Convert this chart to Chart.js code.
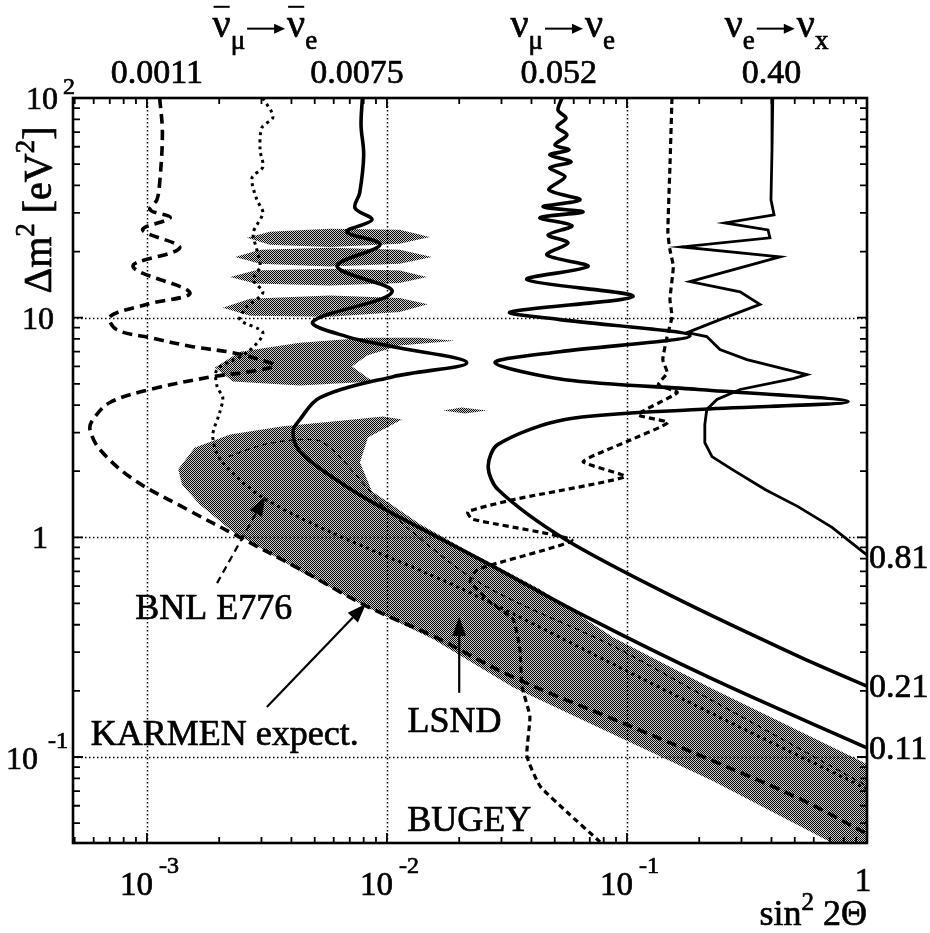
<!DOCTYPE html>
<html>
<head>
<meta charset="utf-8">
<script src="https://cdn.jsdelivr.net/npm/chart.js@4.4.0/dist/chart.umd.min.js"></script>
<style>
  html, body { margin: 0; background: #fff; }
</style>
</head>
<body>
<canvas id="c" width="930" height="933"></canvas>
<script>
// values: sin^2(2θ) and Δm^2 [eV^2]

// KARMEN limit, anti-nu_mu -> anti-nu_e
const antiMuE_s2  = [0.0079, 0.0078, 0.0080, 0.0077, 0.00736, 0.00866, 0.00681, 0.00935, 0.0062, 0.0105, 0.00492, 0.00681, 0.0106, 0.0215, 0.0106, 0.00526, 0.00434, 0.00406, 0.00434, 0.00637, 0.00935, 0.0244, 0.0681, 0.228, 1];
const antiMuE_dm2 = [100, 75, 55, 37, 31.6, 27.9, 24.6, 21.5, 17.1, 13.1, 9.6, 8.2, 7.38, 6.24, 5.39, 4.33, 3.44, 3.03, 2.46, 1.78, 1.38, 0.794, 0.433, 0.226, 0.11];

// KARMEN limit, nu_mu -> nu_e
const muE_s2  = [0.0536, 0.0516, 0.0557, 0.0511, 0.0562, 0.0501, 0.0573, 0.0477, 0.0585, 0.0477, 0.0552, 0.0473, 0.0637, 0.0447, 0.0656, 0.0434, 0.059, 0.0469, 0.0568, 0.0464, 0.0688, 0.0383, 0.106, 0.0326, 0.0526, 0.183, 0.0526, 0.0282, 0.0552, 0.198, 0.834, 0.198, 0.0552, 0.029, 0.0264, 0.029, 0.0552, 0.154, 0.516, 1];
const muE_dm2 = [100, 88, 81, 73.8, 67.9, 61.1, 58, 55.1, 51.2, 48.1, 43.8, 38.2, 34.4, 32, 30.3, 28.5, 26.2, 23.8, 21.9, 19.3, 17.1, 14.9, 12.5, 10.6, 9.8, 8.28, 7.0, 6.24, 5.22, 4.71, 4.15, 3.82, 3.44, 2.65, 2.1, 1.65, 0.98, 0.54, 0.288, 0.21];

// KARMEN limit, nu_e -> nu_x
const eX_s2  = [0.405, 0.402, 0.398, 0.41, 0.256, 0.387, 0.394, 0.169, 0.434, 0.183, 0.296, 0.358, 0.244, 0.178, 0.215, 0.244, 0.316, 0.562, 0.492, 0.296, 0.237, 0.215, 0.211, 0.211, 0.226, 0.274, 0.376, 0.516, 0.715, 1];
const eX_dm2 = [100, 58, 34.4, 29.4, 27, 25.1, 23.1, 21, 18.9, 14.6, 13.1, 11.5, 9.8, 8.55, 8.2, 7.16, 6.44, 5.51, 5.28, 4.71, 4.24, 3.82, 3.26, 2.7, 2.33, 2.04, 1.65, 1.38, 1.11, 0.83];

// KARMEN expected sensitivity
const karmenExp_s2  = [0.00113, 0.00116, 0.00113, 0.0011, 0.00103, 0.00125, 0.00096, 0.00137, 0.000875, 0.00151, 0.001, 0.000701, 0.00075, 0.00103, 0.00155, 0.00228, 0.00296, 0.00341, 0.00269, 0.00188, 0.00103, 0.000701, 0.000596, 0.000579, 0.000637, 0.000875, 0.00147, 0.00244, 0.00434, 0.00826, 0.0156, 0.0335, 0.0874, 0.228, 0.526, 1];
const karmenExp_dm2 = [100, 69.3, 41.1, 34.4, 31, 28.5, 25.1, 20.8, 17.1, 13, 11.5, 10.1, 8.81, 8.11, 7.38, 6.93, 6.44, 6.05, 5.68, 5.39, 4.71, 4.11, 3.44, 3.1, 2.51, 1.84, 1.34, 1, 0.716, 0.485, 0.355, 0.231, 0.149, 0.096, 0.0644, 0.0447];

// BNL E776
const bnl_s2  = [0.00304, 0.00335, 0.00301, 0.00296, 0.00304, 0.00274, 0.00287, 0.00304, 0.00277, 0.00287, 0.00296, 0.00277, 0.00304, 0.00261, 0.00244, 0.00304, 0.00261, 0.00196, 0.00196, 0.00207, 0.00201, 0.00188, 0.00205, 0.00301, 0.00579, 0.0207, 0.0874, 0.228, 1];
const bnl_dm2 = [100, 82, 73.1, 58, 48.5, 43.3, 34.4, 30, 24.3, 20.4, 17.1, 14.9, 13, 11.2, 9.8, 8.55, 6.93, 5.8, 4.86, 4.33, 3.7, 2.88, 2.21, 1.53, 1.06, 0.58, 0.265, 0.157, 0.0716];

// BUGEY
const bugey_s2  = [0.154, 0.151, 0.148, 0.151, 0.156, 0.151, 0.154, 0.147, 0.141, 0.147, 0.135, 0.162, 0.111, 0.148, 0.1, 0.0656, 0.0982, 0.0341, 0.0217, 0.0226, 0.059, 0.0239, 0.0222, 0.0269, 0.0335, 0.0358, 0.0365, 0.0394, 0.0383, 0.0434, 0.0562, 0.0772];
const bugey_dm2 = [100, 48.5, 24.3, 20.4, 17.1, 12.1, 10.1, 8.2, 6.44, 5.62, 4.95, 4.56, 3.62, 3.33, 2.73, 2.21, 1.89, 1.49, 1.31, 1.21, 0.97, 0.716, 0.631, 0.507, 0.424, 0.31, 0.21, 0.153, 0.101, 0.0738, 0.0562, 0.0411];

// LSND favoured region (outlines of the stippled patches)
const lsndBand = [[0.00135, 2.04], [0.00158, 2.56], [0.00222, 2.94], [0.00369, 3.2], [0.00596, 3.37], [0.00962, 3.55], [0.01155, 3.44], [0.00833, 2.85], [0.00772, 2.19], [0.00866, 1.62], [0.0137, 1.15], [0.0211, 0.882], [0.0434, 0.58], [0.0874, 0.351], [0.228, 0.204], [1, 0.093], [1, 0.04], [0.736, 0.04], [0.228, 0.0778], [0.0874, 0.127], [0.0335, 0.208], [0.0156, 0.344], [0.00826, 0.481], [0.00434, 0.7], [0.00228, 1.06], [0.00166, 1.41], [0.0014, 1.74]];
const lsndIsland1 = [[0.00192, 5.93], [0.00244, 7.0], [0.00434, 7.69], [0.00826, 8.11], [0.0137, 8.11], [0.0192, 7.85], [0.0113, 7.46], [0.00826, 6.72], [0.00715, 5.99], [0.00874, 5.12], [0.00434, 4.91], [0.00228, 5.12]];
const lsndIsland2 = [[0.00207, 11.1], [0.00269, 12.2], [0.00579, 12.6], [0.0113, 12.3], [0.0148, 11.5], [0.0113, 10.6], [0.00579, 10.1], [0.00269, 10.2]];
const lsndIsland3 = [[0.00222, 15.3], [0.00282, 16.4], [0.00579, 16.7], [0.0113, 16.4], [0.0147, 15.3], [0.0113, 14.4], [0.00579, 14.0], [0.00282, 14.3]];
const lsndIsland4 = [[0.00233, 18.9], [0.00296, 20.4], [0.00579, 20.8], [0.0113, 20.4], [0.0154, 18.9], [0.0113, 17.6], [0.00579, 17.1], [0.00296, 17.6]];
const lsndIsland5 = [[0.00261, 23.1], [0.00325, 24.6], [0.00579, 25.4], [0.0113, 25.1], [0.0151, 23.3], [0.0113, 21.7], [0.00579, 21.0], [0.00325, 21.5]];
const lsndIsland6 = [[0.0171, 3.78], [0.0205, 3.9], [0.0261, 3.78], [0.0211, 3.66]];
const lsndInner_s2  = [0.00218, 0.00319, 0.00516, 0.0065, 0.0103, 0.0244, 0.0874, 0.228, 1];
const lsndInner_dm2 = [2.33, 2.67, 2.76, 2.26, 1.3, 0.62, 0.32, 0.18, 0.0738];

// tick labels
const topTickValues = [0.0011, 0.0075, 0.052, 0.40];
const topTickLabels = ['0.0011', '0.0075', '0.052', '0.40'];
const rightTickValues = [0.81, 0.21, 0.11];
const rightTickLabels = ['0.81', '0.21', '0.11'];
const xDecades = [1e-3, 1e-2, 1e-1, 1];
const xDecadeExp = ['-3', '-2', '-1', ''];
const yDecades = [100, 10, 1, 0.1];
const yDecadeExp = ['2', '', '', '-1'];

const X_MIN = 4.92e-4, X_MAX = 1, Y_MIN = 0.0406, Y_MAX = 100;
const SERIF = '"Liberation Serif", "DejaVu Serif", serif';

function pts(xs, ys) { return xs.map((x, i) => ({ x: x, y: ys[i] })); }
function poly(p) { return p.map(([x, y]) => ({ x: x, y: y })); }

function curve(data, width, dash, tension) {
  return {
    data: data, showLine: true, pointRadius: 0, borderColor: '#000',
    borderWidth: width, borderDash: dash, tension: tension, fill: false, clip: 0
  };
}
function patch(data) {
  return { data: data, showLine: false, pointRadius: 0, lsnd: true };
}

function logTicks(min, max) {
  const out = [];
  for (let e = Math.floor(Math.log10(min)); e <= Math.ceil(Math.log10(max)); e++) {
    for (let m = 1; m < 10; m++) {
      const v = m * Math.pow(10, e);
      if (v >= min * 0.999 && v <= max * 1.001) out.push({ v: v, major: m === 1 });
    }
  }
  return out;
}

// scanned print: text a little heavier than the plain font
function ink(ctx, s, x, y) {
  ctx.fillText(s, x, y);
  ctx.lineWidth = 0.7;
  ctx.strokeText(s, x, y);
}

function txt(ctx, s, size, x, y, align) {
  ctx.font = size + 'px ' + SERIF;
  ctx.textAlign = align || 'left';
  ctx.textBaseline = 'alphabetic';
  ink(ctx, s, x, y);
}

// parts: [text, size, dy, options]
function rich(ctx, parts, x, y, align) {
  let w = 0;
  const ws = parts.map(p => {
    if (p[3] && p[3].arrow) { w += p[3].arrow; return p[3].arrow; }
    ctx.font = p[1] + 'px ' + SERIF;
    const m = ctx.measureText(p[0]).width; w += m; return m;
  });
  let cx = align === 'right' ? x - w : align === 'center' ? x - w / 2 : x;
  ctx.textAlign = 'left';
  ctx.textBaseline = 'alphabetic';
  parts.forEach((p, i) => {
    const o = p[3] || {};
    if (o.arrow) {
      const ay = y - p[1] * 0.22, x0 = cx + 2, x1 = cx + ws[i] - 2;
      ctx.lineWidth = 2;
      ctx.beginPath(); ctx.moveTo(x0, ay); ctx.lineTo(x1 - 8, ay); ctx.stroke();
      ctx.beginPath(); ctx.moveTo(x1, ay); ctx.lineTo(x1 - 11, ay - 5); ctx.lineTo(x1 - 11, ay + 5); ctx.closePath(); ctx.fill();
    } else {
      ctx.font = p[1] + 'px ' + SERIF;
      ink(ctx, p[0], cx, y + (p[2] || 0));
      if (o.bar) ctx.fillRect(cx + 1, y - p[1] * 0.78, ws[i] - 2, 2);
    }
    cx += ws[i];
  });
}

function arrow(ctx, x0, y0, x1, y1, dash) {
  const ang = Math.atan2(y1 - y0, x1 - x0), L = 19, W = 7;
  const bx = x1 - L * Math.cos(ang), by = y1 - L * Math.sin(ang);
  ctx.lineWidth = 2.2;
  ctx.setLineDash(dash || []);
  ctx.beginPath(); ctx.moveTo(x0, y0); ctx.lineTo(bx, by); ctx.stroke();
  ctx.setLineDash([]);
  ctx.beginPath();
  ctx.moveTo(x1, y1);
  ctx.lineTo(bx + W * Math.sin(ang), by - W * Math.cos(ang));
  ctx.lineTo(bx - W * Math.sin(ang), by + W * Math.cos(ang));
  ctx.closePath(); ctx.fill();
}

// fine halftone like the printed shading
let stipple = null;
function makeStipple(ctx) {
  const c = document.createElement('canvas');
  c.width = 2; c.height = 2;
  const g = c.getContext('2d');
  g.fillStyle = '#cfcfcf';
  g.fillRect(0, 0, 2, 2);
  g.fillStyle = '#000';
  g.fillRect(0, 0, 1, 1);
  g.fillRect(1, 1, 1, 1);
  return ctx.createPattern(c, 'repeat');
}

const paper = {
  id: 'paper',
  beforeDatasetsDraw(chart) {
    const { ctx, chartArea: a, scales: { x, y } } = chart;
    ctx.save();
    ctx.imageSmoothingEnabled = false;
    if (!stipple) stipple = makeStipple(ctx);
    ctx.beginPath(); ctx.rect(a.left, a.top, a.width, a.height); ctx.clip();
    ctx.fillStyle = stipple;
    chart.data.datasets.forEach((ds, i) => {
      if (!ds.lsnd) return;
      const el = chart.getDatasetMeta(i).data;
      ctx.beginPath();
      el.forEach((p, j) => j ? ctx.lineTo(p.x, p.y) : ctx.moveTo(p.x, p.y));
      ctx.closePath();
      ctx.fill();
    });

    // dotted grid at the decades, over the shading
    ctx.strokeStyle = '#000';
    ctx.lineWidth = 1.5;
    ctx.setLineDash([1.5, 2.5]);
    [1e-3, 1e-2, 1e-1].forEach(v => {
      const p = Math.round(x.getPixelForValue(v)) + 0.5;
      ctx.beginPath(); ctx.moveTo(p, a.top); ctx.lineTo(p, a.bottom); ctx.stroke();
    });
    [10, 1, 0.1].forEach(v => {
      const p = Math.round(y.getPixelForValue(v)) + 0.5;
      ctx.beginPath(); ctx.moveTo(a.left, p); ctx.lineTo(a.right, p); ctx.stroke();
    });
    ctx.setLineDash([]);
    ctx.restore();
  },
  afterDatasetsDraw(chart) {
    const { ctx, chartArea: a, scales: { x, y } } = chart;
    ctx.save();
    ctx.fillStyle = '#000';
    ctx.strokeStyle = '#000';

    // frame and inward ticks
    ctx.lineWidth = 2.6;
    ctx.strokeRect(a.left, a.top, a.width, a.height);
    ctx.lineWidth = 1.8;
    logTicks(X_MIN, X_MAX).forEach(t => {
      const p = x.getPixelForValue(t.v), len = t.major ? 10 : 6;
      ctx.beginPath();
      ctx.moveTo(p, a.bottom); ctx.lineTo(p, a.bottom - len);
      ctx.moveTo(p, a.top); ctx.lineTo(p, a.top + len);
      ctx.stroke();
    });
    logTicks(Y_MIN, Y_MAX).forEach(t => {
      const p = y.getPixelForValue(t.v), len = t.major ? 10 : 7;
      ctx.beginPath();
      ctx.moveTo(a.left, p); ctx.lineTo(a.left + len, p);
      ctx.moveTo(a.right, p); ctx.lineTo(a.right - len, p);
      ctx.stroke();
    });

    // bottom decade labels
    xDecades.forEach((v, i) => {
      const p = x.getPixelForValue(v);
      if (xDecadeExp[i]) {
        txt(ctx, '10', 33, p + 6, 895, 'right');
        txt(ctx, xDecadeExp[i], 24, p + 12, 873, 'left');
      } else {
        txt(ctx, '1', 33, p - 4, 891, 'center');
      }
    });
    rich(ctx, [['sin', 36], ['2', 25, -15], [' 2\u0398', 36]], a.right, 925, 'right');

    // left decade labels
    yDecades.forEach((v, i) => {
      const p = y.getPixelForValue(v);
      const e = yDecadeExp[i];
      if (v === 1) txt(ctx, '1', 32, 48, p + 11, 'right');
      else if (e === '') txt(ctx, '10', 32, 54, p + 11, 'right');
      else if (e === '2') { txt(ctx, '10', 32, 58, p + 11, 'right'); txt(ctx, e, 24, 63, p - 4, 'left'); }
      else { txt(ctx, '10', 32, 38, p + 12, 'right'); txt(ctx, e, 24, 48, p - 9, 'left'); }
    });

    // axis title, rotated
    ctx.save();
    ctx.translate(51, 210);
    ctx.rotate(-Math.PI / 2);
    rich(ctx, [['\u0394m', 40], ['2', 27, -17], [' [eV', 40], ['2', 27, -17], [']', 40]], 0, 0, 'center');
    ctx.restore();

    // top scale: high-mass limits
    topTickValues.forEach((v, i) => txt(ctx, topTickLabels[i], 34, x.getPixelForValue(v), 83, 'center'));
    const bar = { bar: true }, arr = { arrow: 42 };
    rich(ctx, [['\u03bd', 40, 0, bar], ['\u03bc', 27, 12], ['', 38, 0, arr], ['\u03bd', 40, 0, bar], ['e', 27, 12]], x.getPixelForValue(0.0031), 37, 'center');
    rich(ctx, [['\u03bd', 40], ['\u03bc', 27, 12], ['', 38, 0, arr], ['\u03bd', 40], ['e', 27, 12]], x.getPixelForValue(0.054), 37, 'center');
    rich(ctx, [['\u03bd', 40], ['e', 27, 12], ['', 38, 0, arr], ['\u03bd', 40], ['x', 27, 12]], x.getPixelForValue(0.42), 37, 'center');

    // right scale: Δm^2 where the limits reach full mixing
    rightTickValues.forEach((v, i) => txt(ctx, rightTickLabels[i], 34, a.right + 2, y.getPixelForValue(v) + 11, 'left'));

    // labels and arrows
    const P = (sx, dy) => [x.getPixelForValue(sx), y.getPixelForValue(dy)];
    let s = P(0.00196, 0.619), e = P(0.00311, 1.53);
    arrow(ctx, s[0], s[1], e[0], e[1], [7, 5]);
    s = P(0.00316, 0.169); e = P(0.00818, 0.498);
    arrow(ctx, s[0], s[1], e[0], e[1]);
    s = P(0.0200, 0.196); e = P(0.0200, 0.434);
    arrow(ctx, s[0], s[1], e[0], e[1]);

    let q = P(0.0019, 0.482); txt(ctx, 'BNL E776', 36, q[0], q[1] + 12, 'center');
    q = P(0.00211, 0.1286); txt(ctx, 'KARMEN expect.', 36, q[0], q[1] + 12, 'center');
    q = P(0.0191, 0.147); txt(ctx, 'LSND', 36, q[0], q[1] + 12, 'center');
    q = P(0.022, 0.0522); txt(ctx, 'BUGEY', 36, q[0], q[1] + 12, 'center');
    ctx.restore();
  }
};

new Chart(document.getElementById('c'), {
  type: 'scatter',
  data: {
    datasets: [
      curve(pts(antiMuE_s2, antiMuE_dm2), 3.6, [], 0.35),
      curve(pts(muE_s2, muE_dm2), 3.6, [], 0.3),
      curve(pts(eX_s2, eX_dm2), 2.8, [], 0),
      curve(pts(karmenExp_s2, karmenExp_dm2), 3.6, [10, 6], 0.35),
      curve(pts(bnl_s2, bnl_dm2), 3, [3, 4], 0.3),
      curve(pts(bugey_s2, bugey_dm2), 3.2, [6, 4], 0.15),
      curve(pts(lsndInner_s2, lsndInner_dm2), 1.3, [5, 4], 0.3),
      patch(poly(lsndBand)),
      patch(poly(lsndIsland1)),
      patch(poly(lsndIsland2)),
      patch(poly(lsndIsland3)),
      patch(poly(lsndIsland4)),
      patch(poly(lsndIsland5)),
      patch(poly(lsndIsland6))
    ]
  },
  options: {
    responsive: false,
    animation: false,
    events: [],
    devicePixelRatio: 1,
    layout: { padding: { left: 73, right: 63, top: 98, bottom: 90 } },
    plugins: { legend: { display: false }, tooltip: { enabled: false } },
    scales: {
      x: { type: 'logarithmic', min: X_MIN, max: X_MAX, display: false },
      y: { type: 'logarithmic', min: Y_MIN, max: Y_MAX, display: false }
    }
  },
  plugins: [paper]
});
</script>
</body>
</html>
